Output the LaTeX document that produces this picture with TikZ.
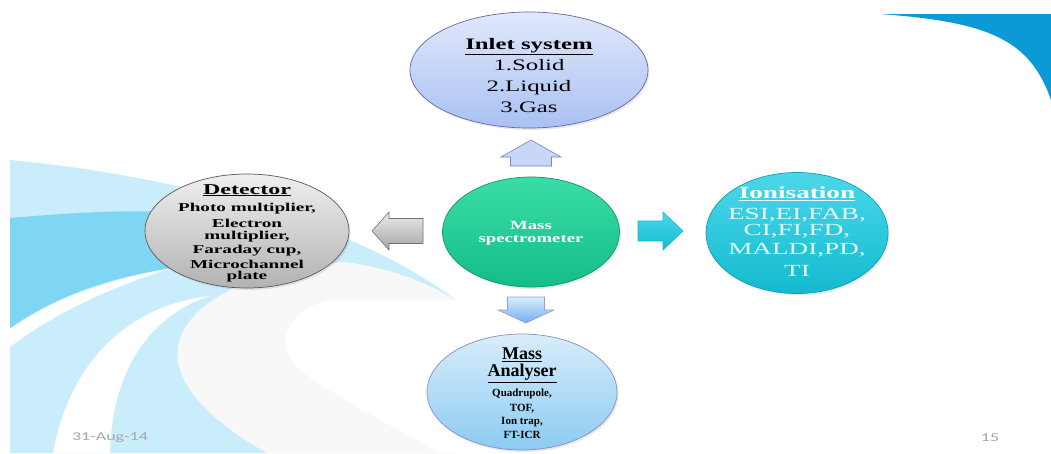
\documentclass[tikz,border=0pt]{standalone}
\usepackage{fontspec}
\setmainfont{Liberation Serif}
\newfontfamily\inletf[FakeStretch=1.55]{Liberation Serif}
\newfontfamily\ionf[FakeStretch=1.6]{Liberation Serif}
\newfontfamily\detf[FakeStretch=1.6]{Liberation Serif}
\newfontfamily\ctrf[FakeStretch=1.5]{Liberation Serif}
\newfontfamily\maf{Liberation Serif}
\newfontfamily\datef[FakeStretch=1.5]{Carlito}
\usetikzlibrary{shapes.geometric,shadows}
\definecolor{lb}{HTML}{C9EDFB}
\definecolor{mb}{HTML}{7FD5F4}
\definecolor{db}{HTML}{0A9AD7}
\definecolor{inTop}{HTML}{E1E8FB}
\definecolor{inBot}{HTML}{A9C1F2}
\definecolor{grTop}{HTML}{3ADDA8}
\definecolor{grBot}{HTML}{14BC88}
\definecolor{ioTop}{HTML}{4AD8EA}
\definecolor{ioBot}{HTML}{14BACF}
\definecolor{dtTop}{HTML}{EFEFEF}
\definecolor{dtBot}{HTML}{B2B2B2}
\definecolor{maTop}{HTML}{D8EDFB}
\definecolor{maBot}{HTML}{8CCBF1}
\definecolor{ionTxt}{HTML}{E3F9FC}
\definecolor{dateGray}{HTML}{A6A6A6}
\definecolor{paleGray}{HTML}{F8F8F9}
\begin{document}
\begin{tikzpicture}[x=1pt,y=-1pt,
  bub/.style={ellipse, inner sep=0pt, draw, line width=0.7pt,
    drop shadow={opacity=0.18, shadow xshift=1.5pt, shadow yshift=-2pt}},
  txt/.style={align=center, inner sep=0pt},
  blockarrow/.style={draw, line width=0.6pt, line join=miter},
  datetxt/.style={font={\datef\fontsize{12}{12}\selectfont}, text=dateGray, inner sep=0pt}]
\useasboundingbox (0,0) rectangle (1051,453);
\fill[white] (0,0) rectangle (1051,453);
% ---- background swooshes ----
\fill[db] (880,14) -- (1051,14) -- (1051,100) .. controls (1030,40) and (990,22) .. (880,14) -- cycle;
\fill[lb] (10,160) .. controls (200,178) and (370,232) .. (458,302) -- (458,453) -- (10,453) -- cycle;
\fill[mb] (10,218) .. controls (80,212) and (150,208) .. (200,215) -- (200,265) -- (160,270)
  .. controls (100,280) and (50,300) .. (10,328) -- cycle;
\fill[white] (10,329) .. controls (50,301) and (100,281) .. (172,268)
  .. controls (110,287) and (50,316) .. (10,347) -- cycle;
\fill[white] (53,453) .. controls (70,360) and (130,305) .. (210,296)
  .. controls (150,315) and (112,370) .. (110,453) -- cycle;
\fill[paleGray] (267,453) .. controls (190,410) and (140,350) .. (213,300)
  .. controls (240,280) and (300,265) .. (345,262)
  .. controls (390,268) and (430,283) .. (458,302) -- (480,302) -- (480,453) -- cycle;
\fill[white] (330,300) .. controls (290,310) and (270,340) .. (300,370)
  .. controls (340,400) and (400,430) .. (440,453) -- (480,453) -- (480,300) -- cycle;
% ---- bubbles ----
\node[bub, minimum width=238pt, minimum height=116pt, draw=black!55!blue!60,
  top color=inTop, bottom color=inBot] (inlet) at (529,70) {};
\node[bub, minimum width=177pt, minimum height=110pt, draw=grBot!80!black,
  top color=grTop, bottom color=grBot] (ms) at (531,232) {};
\node[bub, minimum width=182pt, minimum height=121pt, draw=ioBot!85!black,
  top color=ioTop, bottom color=ioBot] (ion) at (797,233) {};
\node[bub, minimum width=204pt, minimum height=114pt, draw=black!65,
  top color=dtTop, bottom color=dtBot] (det) at (247,231) {};
\node[bub, minimum width=190pt, minimum height=116pt, draw=black!50!blue!45,
  top color=maTop, bottom color=maBot] (ma) at (522,392) {};
% ---- texts ----
\node[txt, font={\inletf\fontsize{16}{21}\selectfont}] (inlett) at (529,75.5)
  {\underline{\textbf{Inlet system}}\\ 1.Solid\\ 2.Liquid\\ 3.Gas};
\node[txt, text=white, font={\ctrf\fontsize{12.5}{13}\selectfont\bfseries}] (mst) at (531,233)
  {Mass\\ spectrometer};
\node[txt, text=ionTxt, font={\ionf\fontsize{17}{19}\selectfont}] (iont) at (797,232)
  {\textcolor{white}{\underline{\textbf{Ionisation}}}\\[2pt] ESI,EI,FAB,\\[-3pt] CI,FI,FD,\\[0pt] MALDI,PD,\\[3pt] TI};
\node[txt, font={\detf\fontsize{12}{12}\selectfont\bfseries}] (dett) at (247,233)
  {{\fontsize{15}{15}\selectfont\underline{Detector}}\\[5pt] Photo multiplier,\\[4pt] Electron\\ multiplier,\\[2pt] Faraday cup,\\[3pt] Microchannel\\[-1pt] plate};
\node[txt, font={\maf\fontsize{11}{13}\selectfont\bfseries}] (mat) at (522,393)
  {{\fontsize{18}{18}\selectfont\underline{Mass}}\\[2pt] {\fontsize{18}{18}\selectfont\underline{Analyser}}\\[5pt] Quadrupole,\\[2pt] TOF,\\ Ion trap,\\[1pt] FT-ICR};
% ---- block arrows ----
\coordinate (upTip) at (531,140);
\coordinate (rightTip) at (683,231);
\coordinate (leftTip) at (372,231);
\coordinate (downTip) at (526,323);
\draw[blockarrow, shift={(upTip)}, fill=inTop!55!inBot, draw=black!45!blue!50]
  (0,0) -- (30,17) -- (20.5,17) -- (20.5,26) -- (-20.5,26) -- (-20.5,17) -- (-30,17) -- cycle;
\draw[blockarrow, shift={(rightTip)}, top color=ioTop, bottom color=ioBot, draw=ioBot]
  (0,0) -- (-20,-19) -- (-20,-10) -- (-45,-10) -- (-45,10) -- (-20,10) -- (-20,19) -- cycle;
\draw[blockarrow, shift={(leftTip)}, top color=black!8, bottom color=black!35, draw=black!55]
  (0,0) -- (17,-19) -- (17,-12.5) -- (51,-12.5) -- (51,12.5) -- (17,12.5) -- (17,19) -- cycle;
\draw[blockarrow, shift={(downTip)}, top color=maTop, bottom color=maBot!85!blue, draw=black!40!blue!40]
  (0,0) -- (28,-13) -- (18.5,-13) -- (18.5,-26) -- (-18.5,-26) -- (-18.5,-13) -- (-28,-13) -- cycle;
% ---- footer ----
\node[datetxt] (date) at (110,438) {31-Aug-14};
\node[datetxt] (pnum) at (990,438) {15};
\end{tikzpicture}
\end{document}
